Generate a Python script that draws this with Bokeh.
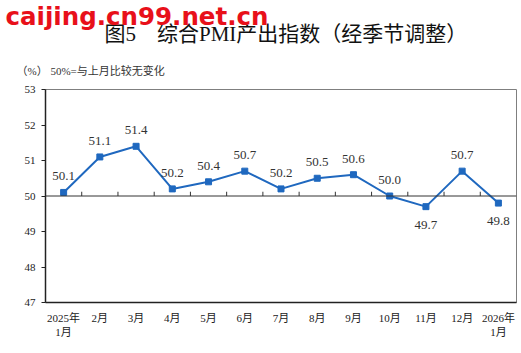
from bokeh.plotting import figure
from bokeh.models import Range1d, FixedTicker, Span, Title, ColumnDataSource, LabelSet
from bokeh.core.properties import value
from bokeh.embed import file_html
from bokeh.resources import INLINE

categories = ["2025年\n1月", "2月", "3月", "4月", "5月", "6月", "7月", "8月", "9月", "10月", "11月", "12月", "2026年\n1月"]
values = [50.1, 51.1, 51.4, 50.2, 50.4, 50.7, 50.2, 50.5, 50.6, 50.0, 49.7, 50.7, 49.8]
label_texts = ["50.1", "51.1", "51.4", "50.2", "50.4", "50.7", "50.2", "50.5", "50.6", "50.0", "49.7", "50.7", "49.8"]
label_below = [False, False, False, False, False, False, False, False, False, False, True, False, True]
y_ticks = [47, 48, 49, 50, 51, 52, 53]

title_text = "图5\u3000综合PMI产出指数（经季节调整）"
unit_text = "（%） 50%=与上月比较无变化"
watermark = "caijing.cn99.net.cn"

SERIF = "'Liberation Serif', 'Noto Sans CJK SC'"
BLUE = "#1f68bf"

W, H = 521, 353
L, R, T, B = 45, 5, 89, 51
Y0, Y1 = 47, 53
N = len(categories)

xs = [i + 0.5 for i in range(N)]

p = figure(width=W, height=H, output_backend="svg", toolbar_location=None,
           x_range=Range1d(0, N), y_range=Range1d(Y0, Y1),
           min_border_left=L, min_border_right=R, min_border_top=T, min_border_bottom=B)
p.background_fill_color = "white"
p.border_fill_color = "white"
p.outline_line_color = "#7f7f7f"
p.outline_line_width = 1
p.xgrid.visible = False
p.ygrid.visible = False

# y axis
p.yaxis.ticker = FixedTicker(ticks=y_ticks)
p.yaxis.major_tick_out = 4
p.yaxis.major_tick_in = 0
p.yaxis.minor_tick_line_color = None
p.yaxis.axis_line_color = "#222222"
p.yaxis.axis_line_width = 1.5
p.yaxis.major_tick_line_color = "#222222"
p.yaxis.major_label_text_font = SERIF
p.yaxis.major_label_text_font_size = "11px"
p.yaxis.major_label_text_color = "#222222"
p.yaxis.major_label_standoff = 6

# x axis (at bottom, labels only)
p.xaxis.ticker = FixedTicker(ticks=xs)
p.xaxis.major_label_overrides = {x: c for x, c in zip(xs, categories)}
p.xaxis.major_tick_out = 0
p.xaxis.major_tick_in = 0
p.xaxis.minor_tick_line_color = None
p.xaxis.axis_line_color = "#222222"
p.xaxis.axis_line_width = 1.5
p.xaxis.major_label_text_font = SERIF
p.xaxis.major_label_text_font_size = "11px"
p.xaxis.major_label_text_color = "#222222"
p.xaxis.major_label_standoff = 9

# 50 baseline with tick marks
p.add_layout(Span(location=50, dimension="width", line_color="#333333", line_width=1))
bx = list(range(1, N))
p.segment(x0=bx, y0=[50] * len(bx), x1=bx, y1=[50.12] * len(bx), line_color="#333333", line_width=1)

# series
p.line(xs, values, line_color=BLUE, line_width=2)
p.scatter(xs, values, marker="square", size=6, fill_color=BLUE, line_color=BLUE)

offsets = [-18 if b else 16 for b in label_below]
src = ColumnDataSource(dict(x=xs, y=values, t=label_texts, off=offsets))
p.add_layout(LabelSet(x="x", y="y", text="t", source=src, y_offset="off",
                      text_align="center", text_baseline="middle",
                      text_font=value(SERIF), text_font_size="13px", text_color="#333333"))

# stacked titles above the frame (first added is nearest the frame)
p.add_layout(Title(text=unit_text, align="left", offset=-29, standoff=25,
                   text_font=SERIF, text_font_size="11px", text_font_style="normal",
                   text_color="#333333"), "above")
p.add_layout(Title(text=title_text, align="left", offset=59, standoff=10,
                   text_font=SERIF, text_font_size="21px", text_font_style="normal",
                   text_color="#111111"), "above")
p.add_layout(Title(text=watermark, align="left", offset=-40, standoff=-33,
                   text_font="DejaVu Sans", text_font_size="24.5px", text_font_style="bold",
                   text_color="#e8101a"), "above")

open("out.html", "w").write(file_html(p, INLINE))
